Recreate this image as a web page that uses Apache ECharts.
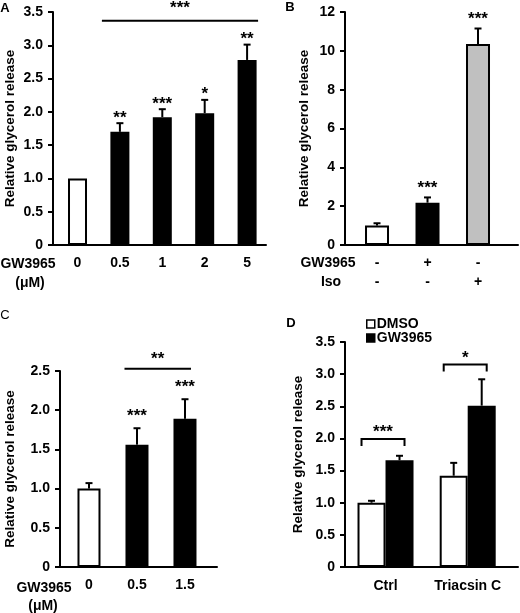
<!DOCTYPE html>
<html><head><meta charset="utf-8">
<script src="https://cdn.jsdelivr.net/npm/echarts@6/dist/echarts.min.js"></script>
<style>html,body{margin:0;padding:0;background:#fff}#c{width:520px;height:613px}</style>
</head><body><div id="c"></div>
<script>
// ---------- Panel A ----------
const aCategories = ['0', '0.5', '1', '2', '5'];
const aValues = [1.0, 1.70, 1.92, 1.98, 2.78];
const aErrors = [0, 0.13, 0.12, 0.20, 0.23];
const aStars = ['', '**', '***', '*', '**'];
const aSig = [{ from: 1, to: 4, level: 3.37, label: '***' }];
const aRowLabels = ['GW3965', '(μM)'];
// ---------- Panel B ----------
const bGW = ['-', '+', '-'];
const bIso = ['-', '-', '+'];
const bValues = [1.0, 2.18, 10.35];
const bErrors = [0.12, 0.27, 0.80];
const bStars = ['', '***', '***'];
const bRowLabels = ['GW3965', 'Iso'];
// ---------- Panel C ----------
const cCategories = ['0', '0.5', '1.5'];
const cValues = [1.0, 1.56, 1.89];
const cErrors = [0.07, 0.21, 0.25];
const cStars = ['', '***', '***'];
const cSig = [{ from: 1, to: 2, level: 2.53, label: '**' }];
const cRowLabels = ['GW3965', '(μM)'];
// ---------- Panel D ----------
const dCategories = ['Ctrl', 'Triacsin C'];
const dSeriesNames = ['DMSO', 'GW3965'];
const dDMSO = [1.0, 1.42];
const dDMSOErr = [0.03, 0.20];
const dGW = [1.66, 2.51];
const dGWErr = [0.07, 0.41];
const dBrackets = [{ group: 0, level: 1.99, label: '***' }, { group: 1, level: 3.15, label: '*' }];
const yTitle = 'Relative glycerol release';
const panelLetters = ['A', 'B', 'C', 'D'];

// ---------- styling / layout ----------
const FONT = '"Liberation Sans", Arial, sans-serif';
const BLACK = '#000';
const FS = 14;
const fmtY = v => (v === 0 ? '0' : v.toFixed(1));
const fmtInt = v => String(v);

const grids = [
  { left: 53, right: 254, top: 12, bottom: 368 },
  { left: 345, right: 2, top: 12, bottom: 368 },
  { left: 60, right: 303, top: 371, bottom: 46 },
  { left: 345, right: 2, top: 342, bottom: 46 }
];
const xRanges = [[-0.578, 4.446], [-0.634, 2.792], [-0.604, 2.667], [-0.493, 1.612]];
const yRanges = [[0, 3.5, 0.5], [0, 12, 2], [0, 2.5, 0.5], [0, 3.5, 0.5]];
const nameGaps = [36, 34, 43, 40];
const barWidths = [19, 24, 23, 28];

function xAxis(i, count, formatter, labelExtra) {
  return {
    type: 'value', gridIndex: i, min: xRanges[i][0], max: xRanges[i][1],
    axisLine: { show: true, onZero: false, lineStyle: { color: BLACK, width: 2 } },
    axisTick: { show: false }, splitLine: { show: false },
    axisLabel: Object.assign({
      customValues: Array.from({ length: count }, (_, k) => k),
      formatter: v => formatter(Math.round(v)),
      color: BLACK, fontWeight: 'bold', fontSize: FS, fontFamily: FONT, margin: 11
    }, labelExtra || {})
  };
}
function yAxis(i, fmt) {
  return {
    type: 'value', gridIndex: i, min: yRanges[i][0], max: yRanges[i][1], interval: yRanges[i][2],
    axisLine: { show: true, onZero: false, lineStyle: { color: BLACK, width: 2 } },
    axisTick: { show: true, length: 5, lineStyle: { color: BLACK, width: 2 } },
    splitLine: { show: false },
    axisLabel: { formatter: fmt, color: BLACK, fontWeight: 'bold', fontSize: FS, fontFamily: FONT, margin: 10 },
    name: yTitle, nameLocation: 'middle', nameGap: nameGaps[i],
    nameTextStyle: { color: BLACK, fontWeight: 'bold', fontSize: 13.5, fontFamily: FONT }
  };
}
function barSeries(i, values, colors, name) {
  return {
    type: 'bar', name: name, xAxisIndex: i, yAxisIndex: i, barWidth: barWidths[i],
    data: values.map((v, k) => ({ value: [k, v], itemStyle: { color: colors[k] } })),
    itemStyle: { color: colors[0], borderColor: BLACK, borderWidth: 2 }, z: 2
  };
}
function errSeries(i, values, errors, offsetPx) {
  return {
    type: 'custom', xAxisIndex: i, yAxisIndex: i, z: 3,
    data: values.map((v, k) => [k, v, errors[k]]),
    renderItem(params, api) {
      const x = api.value(0), v = api.value(1), e = api.value(2);
      if (!e) return null;
      const p0 = api.coord([x, v]), p1 = api.coord([x, v + e]);
      const cx = p0[0] + offsetPx;
      return { type: 'group', children: [
        { type: 'line', shape: { x1: cx, y1: p0[1], x2: cx, y2: p1[1] }, style: { stroke: BLACK, lineWidth: 2 } },
        { type: 'line', shape: { x1: cx - 3.5, y1: p1[1], x2: cx + 3.5, y2: p1[1] }, style: { stroke: BLACK, lineWidth: 2 } }
      ] };
    }
  };
}
const STAR_FS = 17;
function starText(text, x, yCenter) {
  return { type: 'text', style: { text: text, x: x, y: yCenter + 0.22 * STAR_FS, align: 'center', verticalAlign: 'middle',
    font: 'bold ' + STAR_FS + 'px ' + FONT, fill: BLACK } };
}
function starSeries(i, values, errors, stars, gapPx) {
  return {
    type: 'custom', xAxisIndex: i, yAxisIndex: i, z: 4,
    data: values.map((v, k) => [k, v + errors[k], k]),
    renderItem(params, api) {
      const s = stars[api.value(2)];
      if (!s) return null;
      const p = api.coord([api.value(0), api.value(1)]);
      return starText(s, p[0], p[1] - gapPx);
    }
  };
}
function sigSeries(i, sigs, leftPad, rightPad, gapPx) {
  return {
    type: 'custom', xAxisIndex: i, yAxisIndex: i, z: 4,
    data: sigs.map((s, k) => [s.from, s.to, s.level, k]),
    renderItem(params, api) {
      const a = api.coord([api.value(0), api.value(2)]);
      const b = api.coord([api.value(1), api.value(2)]);
      const x1 = a[0] - leftPad, x2 = b[0] + rightPad, y = a[1];
      return { type: 'group', children: [
        { type: 'line', shape: { x1: x1, y1: y, x2: x2, y2: y }, style: { stroke: BLACK, lineWidth: 2 } },
        starText(sigs[api.value(3)].label, (x1 + x2) / 2, y - gapPx)
      ] };
    }
  };
}
function bracketSeries(i, brackets) {
  return {
    type: 'custom', xAxisIndex: i, yAxisIndex: i, z: 4,
    data: brackets.map((b, k) => [b.group, b.level, k]),
    renderItem(params, api) {
      const p = api.coord([api.value(0), api.value(1)]);
      const x1 = p[0] - 24, x2 = p[0] + 19, y = p[1], leg = 7;
      return { type: 'group', children: [
        { type: 'polyline', shape: { points: [[x1, y + leg], [x1, y], [x2, y], [x2, y + leg]] }, style: { stroke: BLACK, lineWidth: 2, fill: null } },
        starText(brackets[api.value(2)].label, (x1 + x2) / 2, y - 10)
      ] };
    }
  };
}
function textEl(text, x, y, size, weight, align) {
  return { type: 'text', x: x, y: y, style: { text: text, font: (weight || 'bold') + ' ' + (size || FS) + 'px ' + FONT,
    fill: BLACK, align: align || 'center', verticalAlign: 'middle' } };
}

const W = '#ffffff', K = '#000000', G = '#c0c0c0';
const option = {
  animation: false,
  backgroundColor: '#fff',
  grid: grids,
  xAxis: [
    xAxis(0, aCategories.length, k => aCategories[k]),
    xAxis(1, bGW.length, k => bGW[k] + '\n' + bIso[k], { margin: 9, lineHeight: 19 }),
    xAxis(2, cCategories.length, k => cCategories[k]),
    xAxis(3, dCategories.length, k => dCategories[k], { margin: 12 })
  ],
  yAxis: [yAxis(0, fmtY), yAxis(1, fmtInt), yAxis(2, fmtY), yAxis(3, fmtY)],
  legend: {
    data: dSeriesNames, orient: 'vertical', left: 361, top: 312, itemWidth: 8, itemHeight: 8, itemGap: 0,
    icon: 'rect', itemStyle: { borderWidth: 1.5 },
    textStyle: { color: BLACK, fontWeight: 'bold', fontSize: 14, fontFamily: FONT, lineHeight: 14, padding: [0, 0, 0, -3] }
  },
  series: [
    barSeries(0, aValues, [W, K, K, K, K]),
    errSeries(0, aValues, aErrors, 0),
    starSeries(0, aValues, aErrors, aStars, 9),
    sigSeries(0, aSig, 18, 11, 16),
    barSeries(1, bValues, [W, K, G]),
    errSeries(1, bValues, bErrors, 0),
    starSeries(1, bValues, bErrors, bStars, 12.5),
    barSeries(2, cValues, [W, K, K]),
    errSeries(2, cValues, cErrors, 0),
    starSeries(2, cValues, cErrors, cStars, 16),
    sigSeries(2, cSig, 12.5, 6, 13),
    Object.assign(barSeries(3, dDMSO, [W, W], dSeriesNames[0]), { barGap: '0%' }),
    Object.assign(barSeries(3, dGW, [K, K], dSeriesNames[1]), { barGap: '0%' }),
    errSeries(3, dDMSO, dDMSOErr, -barWidths[3] / 2),
    errSeries(3, dGW, dGWErr, barWidths[3] / 2),
    bracketSeries(3, dBrackets)
  ],
  graphic: [
    textEl(panelLetters[0], 5, 8, 13),
    textEl(panelLetters[1], 290, 7, 13),
    textEl(panelLetters[2], 5, 315, 13, 'normal'),
    textEl(panelLetters[3], 291, 323, 13),
    textEl(aRowLabels[0], 28, 264),
    textEl(aRowLabels[1], 30, 283),
    textEl(bRowLabels[0], 328, 263),
    textEl(bRowLabels[1], 331, 282),
    textEl(cRowLabels[0], 44, 588),
    textEl(cRowLabels[1], 43, 606)
  ]
};
const chart = echarts.init(document.getElementById('c'), null, { renderer: 'canvas' });
chart.setOption(option);
</script>
</body></html>
